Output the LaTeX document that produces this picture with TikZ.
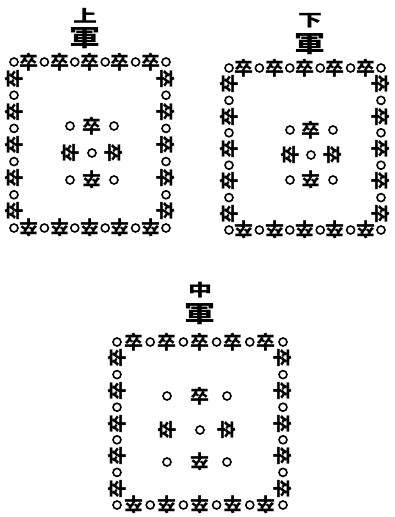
\documentclass[tikz,border=0pt]{standalone}
\usepackage{fontspec}
\newfontfamily\cjk{Noto Sans CJK TC}

\begin{document}
\begin{tikzpicture}[x=1pt, y=-1pt,
    zu/.style={font=\cjk\bfseries\fontsize{19}{19}\selectfont, inner sep=0pt},
    ring/.style={circle, draw, line width=1.6pt, minimum size=8pt, inner sep=0pt},
    jun/.style={font=\cjk\bfseries\fontsize{31}{31}\selectfont, inner sep=0pt, yscale=0.75},
    wei/.style={font=\cjk\bfseries\fontsize{24}{24}\selectfont, inner sep=0pt, yscale=0.7}]
    \useasboundingbox (0,0) rectangle (394,517);
    % three formations: name / left / top / right / bottom / inner columns / inner rows / title
    \foreach \n/\l/\t/\r/\b/\xa/\xb/\xc/\ya/\yb/\yc/\lx/\lya/\lyb/\lc in {
        shang/14/62/166/228/70/92/114/126/153/180/85/16/38/上,
        xia/229/68/381/230/290/311/333/130/155/180/310/21/44/下,
        zhong/117/342/283/505/167/200/227/396/430/462/200/290/314/中}
    {
        \node[wei] (\n-title) at (\lx,\lya) {\lc};
        \node[jun] (\n-jun) at (\lx,\lyb) {軍};
        % outer square
        \foreach \i in {0,...,10} {
            \pgfmathsetmacro\px{\l+(\r-\l)*\i/10}
            \pgfmathsetmacro\py{\t+(\b-\t)*\i/10}
            \ifodd\i
                \node[zu] (\n-t\i) at (\px,\t) {卒};
                \node[zu, rotate=180] (\n-b\i) at (\px,\b) {卒};
                \node[zu, rotate=90] (\n-l\i) at (\l,\py) {卒};
                \node[zu, rotate=-90] (\n-r\i) at (\r,\py) {卒};
            \else
                \node[ring] (\n-t\i) at (\px,\t) {};
                \node[ring] (\n-b\i) at (\px,\b) {};
                \ifnum\i>0 \ifnum\i<10
                    \node[ring] (\n-l\i) at (\l,\py) {};
                    \node[ring] (\n-r\i) at (\r,\py) {};
                \fi\fi
            \fi
        }
        % inner group
        \node[zu] (\n-cn) at (\xb,\ya) {卒};
        \node[zu, rotate=90] (\n-cw) at (\xa,\yb) {卒};
        \node[zu, rotate=-90] (\n-ce) at (\xc,\yb) {卒};
        \node[zu, rotate=180] (\n-cs) at (\xb,\yc) {卒};
        \node[ring] (\n-cnw) at (\xa,\ya) {};
        \node[ring] (\n-cne) at (\xc,\ya) {};
        \node[ring] (\n-cc) at (\xb,\yb) {};
        \node[ring] (\n-csw) at (\xa,\yc) {};
        \node[ring] (\n-cse) at (\xc,\yc) {};
    }
\end{tikzpicture}
\end{document}
